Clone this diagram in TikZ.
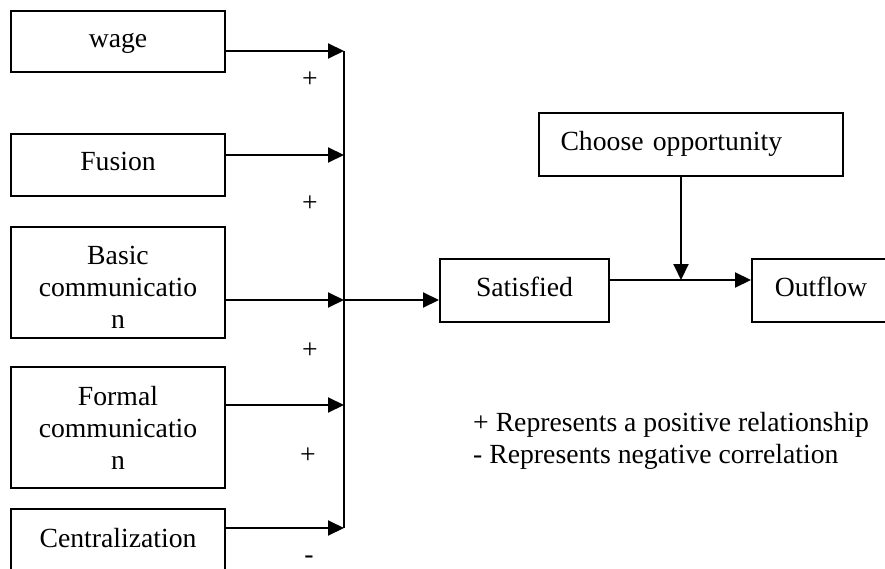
\documentclass[tikz,border=0pt]{standalone}
\usepackage{fontspec}
\setmainfont{Liberation Serif}
\usetikzlibrary{arrows.meta}
\begin{document}
\begin{tikzpicture}[x=1pt,y=-1pt,
  box/.style={draw,line width=2pt,inner sep=0pt,minimum width=214pt,align=center,font=\fontsize{27.7}{32}\selectfont},
  one/.style={text height=18pt,text depth=6pt},
  lbl/.style={font=\fontsize{27.7}{32}\selectfont,inner sep=0pt},
  arr/.style={line width=2pt,-{Triangle[length=16pt,width=15pt]}},
  ln/.style={line width=2pt}]
\useasboundingbox (0,0) rectangle (885,569);
\clip (0,0) rectangle (885,569);
% left boxes
\node[box,one,minimum height=61pt] (wage) at (118,41.5) {wage};
\node[box,one,minimum height=62pt] (fus) at (118,165) {Fusion};
\node[box,minimum height=111pt] (basic) at (118,282.5) {\rule{0pt}{28pt}Basic\\communicatio\\n};
\node[box,minimum height=121pt] (formal) at (118,427.5) {Formal\\communicatio\\n};
\node[box,anchor=north,text height=38pt,text depth=50pt] (cent) at (118,508) {Centralization};
% right boxes
\node[box,one,minimum width=169pt,minimum height=63pt] (sat) at (524.5,290.5) {Satisfied};
\node[box,one,minimum width=138pt,minimum height=63pt] (out) at (821,290.5) {Outflow};
\node[box,one,minimum height=63pt,text width=260pt,align=left,inner xsep=22pt] (ch) at (690.5,144.5) {Choose opportunity};
% junction coordinates
\coordinate (j1) at (344,51);
\coordinate (j2) at (344,155);
\coordinate (j3) at (344,300);
\coordinate (j4) at (344,405);
\coordinate (j5) at (344,528);
\coordinate (m) at (681,280);
% connectors
\draw[ln] (j1) -- (j5);
\draw[arr] (j1 -| wage.east) -- (j1);
\draw[arr] (j2 -| fus.east) -- (j2);
\draw[arr] (j3 -| basic.east) -- (j3);
\draw[arr] (j4 -| formal.east) -- (j4);
\draw[arr] (j5 -| cent.east) -- (j5);
\draw[arr] (j3) -- (j3 -| sat.west);
\draw[arr] (m -| sat.east) -- (m -| out.west);
\draw[arr] (m |- ch.south) -- (m);
% signs
\node[lbl] (p1) at (310,80) {+};
\node[lbl] (p2) at (310,204) {+};
\node[lbl] (p3) at (310,351) {+};
\node[lbl] (p4) at (308,456) {+};
\node[lbl] (n5) at (309,560) {-};
% legend
\node[lbl,anchor=west,align=left] (leg) at (473,440.5) {+ Represents a positive relationship\\- Represents negative correlation};
\end{tikzpicture}
\end{document}
